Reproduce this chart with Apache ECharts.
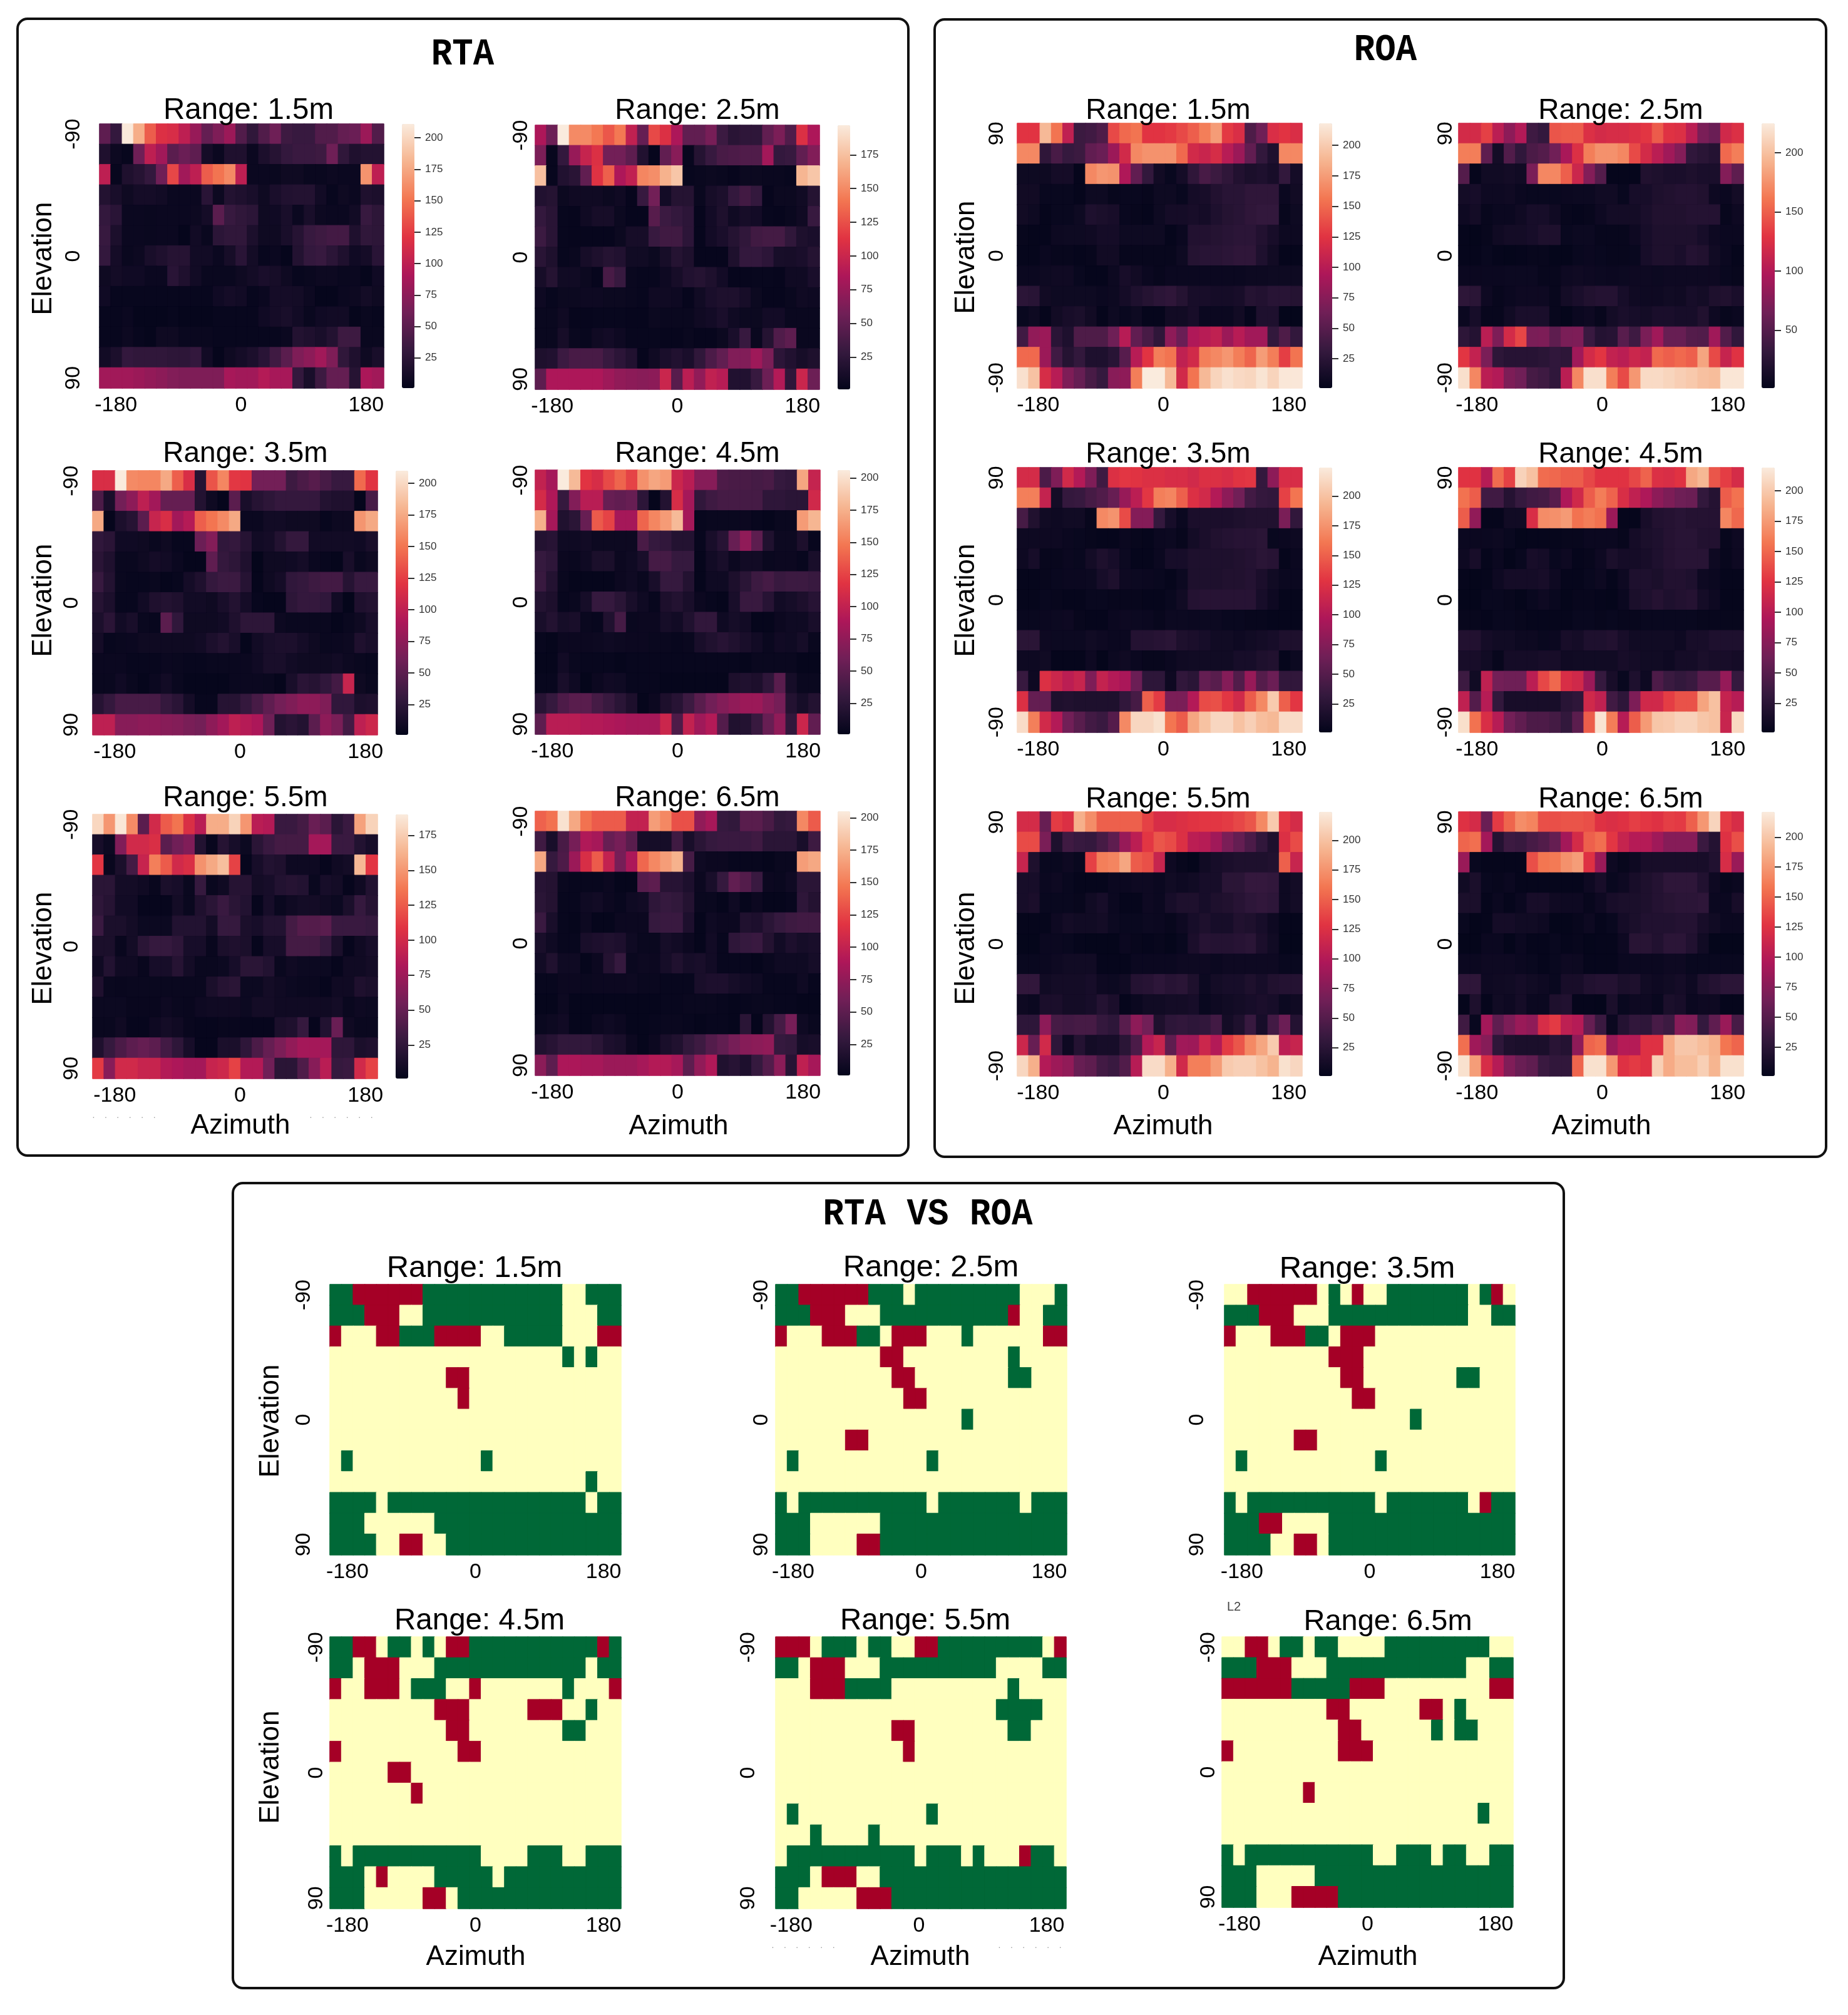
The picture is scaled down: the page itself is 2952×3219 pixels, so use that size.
<!DOCTYPE html>
<html>
<head>
<meta charset="utf-8">
<title>RTA vs ROA</title>
<script src="https://cdn.jsdelivr.net/npm/echarts@6/dist/echarts.min.js"></script>
<style>
  html, body { margin: 0; padding: 0; background: #fff; }
  #chart { width: 2952px; height: 3219px; }
</style>
</head>
<body>
<div id="chart"></div>
<script>
// tick labels, only some cells carry one
const azimuthLabels = ['', '-180', '', '', '', '', '', '', '', '', '', '', '0', '', '', '', '', '', '', '', '', '', '', '180', ''];
const elevationDown = ['-90', '', '', '', '', '', '0', '', '', '', '', '', '90'];
const elevationUp = ['90', '', '', '', '', '', '0', '', '', '', '', '', '-90'];
const ticks25 = [25, 50, 75, 100, 125, 150, 175, 200];
const ticks50 = [50, 100, 150, 200];
const ranges = ['1.5', '2.5', '3.5', '4.5', '5.5', '6.5'];

// colour limits of each colour bar
const rtaMax = [211, 197, 210, 206, 190, 205];
const roaMax = [218, 225, 224, 219, 224, 221];

// RTA, rows from top to bottom
const rta15 = [
  [52,30,210,178,140,118,115,100,80,55,68,82,45,28,45,60,35,32,32,45,45,55,58,82,45],
  [18,7,4,60,100,85,50,58,52,12,6,18,18,6,16,22,30,33,33,35,60,28,18,20,20],
  [100,4,18,22,30,60,130,85,100,140,150,160,100,6,6,5,8,8,5,5,7,6,6,165,100],
  [20,14,8,12,12,10,6,6,6,24,7,20,18,14,8,15,19,20,20,10,4,8,6,18,16],
  [30,24,6,6,5,6,6,6,7,12,50,32,28,25,8,9,14,6,14,7,6,6,10,32,26],
  [32,16,6,6,5,6,6,3,10,5,25,28,28,16,8,8,14,22,32,35,38,38,18,28,26],
  [30,12,5,7,14,18,22,22,10,10,6,13,24,11,4,6,3,20,30,32,25,18,9,12,24],
  [8,11,9,9,6,6,24,18,10,5,5,5,8,11,15,13,8,4,5,7,7,5,6,3,9],
  [9,4,4,4,4,4,4,4,4,4,9,12,10,4,6,12,12,11,7,3,3,6,7,11,8],
  [4,4,6,3,3,3,4,3,3,3,4,4,4,4,9,12,14,10,5,9,10,10,3,5,4],
  [4,4,7,4,3,8,8,5,5,5,4,4,4,4,4,4,6,20,18,14,20,35,35,5,5],
  [10,16,30,28,28,28,26,26,30,10,3,8,12,16,24,36,50,68,75,85,68,28,18,8,14],
  [85,85,85,82,78,75,70,68,68,68,68,88,85,85,95,88,88,30,14,35,55,55,22,90,85]
];
const rta25 = [
  [85,55,197,150,150,142,128,142,95,52,122,110,85,50,50,60,32,22,25,25,50,62,42,110,85],
  [62,4,28,75,98,110,58,58,48,18,3,50,68,4,20,30,38,40,42,42,80,28,30,50,65],
  [175,4,18,22,50,112,132,85,95,148,152,168,178,4,5,6,5,3,6,6,5,5,4,170,178],
  [18,20,6,8,8,8,6,8,3,30,58,10,20,20,5,12,15,28,35,28,3,6,6,9,20],
  [28,22,4,3,8,12,12,6,3,3,45,32,28,24,3,10,16,8,12,10,4,3,5,8,30],
  [32,22,4,3,3,3,3,6,12,12,30,34,34,24,3,10,14,20,26,34,36,36,26,16,14],
  [22,16,4,5,12,16,20,18,9,9,6,12,20,16,3,3,3,16,28,28,24,13,12,14,20],
  [12,20,9,9,6,3,38,30,5,4,4,7,12,18,20,16,10,3,3,4,4,3,8,8,14],
  [7,4,6,6,7,7,6,6,5,4,8,8,7,3,9,14,16,16,12,6,3,3,5,8,7],
  [5,5,8,3,3,4,4,4,3,3,6,5,5,5,8,10,14,8,6,6,10,10,5,5,5],
  [5,5,12,5,4,8,10,7,4,4,4,3,3,5,3,3,6,14,30,5,20,42,48,5,5],
  [16,18,32,38,38,38,30,24,18,3,8,14,18,14,26,40,50,65,65,78,62,24,18,12,16],
  [48,85,85,85,85,85,78,72,70,68,70,100,45,92,72,95,90,18,18,30,55,88,25,100,55]
];
const rta35 = [
  [115,115,210,160,158,158,175,140,115,22,135,158,122,120,62,62,62,35,42,48,40,32,32,145,120],
  [42,14,62,75,100,85,55,55,55,20,8,3,50,14,22,26,30,30,30,30,20,18,18,3,40],
  [175,3,16,22,50,105,115,85,95,140,150,160,175,6,6,10,10,8,8,8,4,7,7,165,175],
  [28,24,9,9,8,5,8,4,4,58,70,28,30,22,10,12,20,30,30,10,10,10,10,9,14],
  [24,18,5,5,8,12,10,6,3,3,52,30,26,18,2,8,8,9,12,6,4,3,14,5,8],
  [32,20,5,4,4,5,3,4,12,18,30,34,34,22,3,8,12,28,30,35,38,38,22,32,32],
  [22,16,4,4,10,18,20,18,10,10,8,14,20,12,4,3,3,26,30,30,28,10,2,18,20],
  [16,24,10,14,5,4,50,28,8,8,8,10,18,26,26,26,7,5,5,5,5,3,5,8,14],
  [12,4,5,6,8,8,8,8,8,10,16,20,14,3,10,14,16,16,12,8,5,6,7,18,14],
  [6,6,6,4,4,4,6,5,4,4,5,5,5,6,9,14,14,10,8,8,8,10,7,5,4],
  [5,5,9,5,3,6,10,5,3,3,3,3,5,6,6,5,3,14,24,22,28,38,105,8,5],
  [22,30,40,40,40,40,30,24,12,4,4,22,22,30,40,52,62,68,75,75,68,28,28,16,18],
  [100,100,72,72,75,75,72,70,65,62,75,85,100,95,90,60,20,24,20,50,75,65,38,100,108]
];
const rta45 = [
  [100,85,206,180,118,112,128,140,125,160,170,165,105,95,70,70,42,40,40,38,40,30,28,170,102],
  [110,90,30,68,95,95,55,52,55,25,3,20,112,85,28,35,38,38,38,38,26,26,24,24,108],
  [175,85,18,24,55,135,125,85,85,140,155,165,180,85,4,5,5,5,6,4,3,5,5,165,178],
  [20,22,8,8,10,7,7,7,7,40,30,28,20,20,4,14,22,55,75,50,18,7,7,16,4],
  [30,26,6,5,8,15,15,6,8,14,38,38,30,30,3,10,14,6,10,10,5,6,6,4,14],
  [32,20,5,3,3,3,3,6,8,5,14,30,30,20,3,8,8,16,24,34,38,32,34,34,32],
  [20,16,4,5,12,30,30,24,14,8,4,16,20,14,6,4,3,14,32,32,22,10,12,16,22],
  [14,20,12,14,5,4,18,38,5,6,6,12,10,18,28,28,8,12,10,3,3,6,8,8,14],
  [4,3,6,6,6,7,8,7,6,6,5,5,4,5,14,18,22,18,14,10,5,9,8,12,5],
  [3,3,10,5,4,4,4,3,4,4,4,4,4,4,4,4,4,4,3,5,5,5,5,3,3],
  [4,4,14,8,2,6,9,8,4,4,4,3,3,3,3,3,3,16,18,16,26,48,12,5,5],
  [22,30,42,48,48,38,32,24,16,3,6,16,22,34,48,60,68,75,80,80,70,62,20,12,20],
  [50,95,95,95,92,92,90,88,85,85,85,105,42,100,82,92,45,18,20,32,55,75,28,105,52]
];
const rta55 = [
  [180,150,188,145,45,100,125,135,105,88,160,160,178,150,88,85,30,30,35,52,45,22,30,155,178],
  [12,6,62,100,100,105,45,55,62,18,4,20,12,6,22,30,35,35,35,78,78,30,30,18,12],
  [110,4,14,35,95,140,125,100,105,148,158,168,115,3,12,18,16,7,7,7,3,8,10,165,110],
  [22,22,10,10,8,4,14,12,5,28,5,8,20,20,10,12,18,20,18,5,12,10,3,8,18],
  [24,20,9,9,3,3,3,10,5,16,22,30,22,18,3,12,5,8,10,10,8,6,14,28,20],
  [30,14,14,10,6,6,6,18,18,18,10,28,28,14,12,18,18,35,42,42,45,30,30,30,28],
  [14,14,4,10,22,28,28,24,12,12,4,14,16,14,3,12,12,35,35,35,28,14,3,8,12],
  [8,18,8,8,4,12,12,20,10,5,5,6,12,22,22,18,5,8,6,6,6,3,8,8,10],
  [16,5,4,5,5,5,5,5,5,5,14,20,22,6,6,10,8,6,5,5,3,8,8,16,14],
  [6,6,6,4,4,4,7,5,4,7,8,8,8,6,10,10,8,8,8,8,8,10,5,7,6],
  [5,5,8,3,3,7,10,8,4,3,3,4,4,3,3,3,14,16,28,3,18,52,8,5,5],
  [16,28,38,46,50,46,34,24,12,3,3,14,14,24,38,50,60,70,78,78,78,24,24,14,16],
  [112,65,100,100,95,95,85,82,78,78,95,98,115,85,85,55,22,22,40,65,88,28,30,100,115]
];
const rta65 = [
  [138,145,200,170,145,135,135,135,100,100,165,155,130,130,75,85,30,28,48,48,40,28,30,155,135],
  [35,14,40,62,90,85,55,62,48,12,12,12,35,14,24,30,32,32,32,35,24,24,24,14,34],
  [170,30,42,80,112,135,100,62,88,140,155,165,175,38,8,6,6,4,4,4,3,5,5,165,170],
  [22,20,5,4,4,4,6,3,3,46,50,22,22,16,6,14,30,52,45,32,6,5,8,24,24],
  [24,20,4,4,8,10,6,4,8,10,26,30,28,20,5,5,3,8,3,6,3,3,4,26,20],
  [32,14,4,3,7,3,3,6,6,6,30,32,32,16,3,8,6,6,18,16,24,30,34,36,36],
  [14,8,4,4,14,16,18,16,8,5,5,12,10,6,3,10,4,26,30,32,20,10,16,12,14],
  [10,18,8,8,3,6,20,30,5,7,6,12,18,12,14,10,4,4,4,3,5,8,8,8,12],
  [4,4,6,6,5,6,6,6,7,5,5,4,4,4,14,16,16,12,10,8,4,4,4,8,4],
  [3,3,7,3,3,3,3,3,3,3,3,4,4,5,5,5,4,3,4,5,5,4,4,3,3],
  [5,7,9,3,3,6,8,6,3,3,4,5,5,4,3,4,4,3,24,3,20,38,62,8,5],
  [18,22,28,28,28,24,16,14,6,3,6,14,18,28,34,45,52,62,70,72,75,30,28,12,14],
  [72,50,88,88,85,85,80,80,80,85,92,92,85,50,75,90,18,22,16,30,45,72,22,98,85]
];

// ROA, rows from top to bottom
const roa15 = [
  [125,125,190,155,105,35,38,45,135,150,155,125,125,128,135,145,160,175,128,120,45,62,120,125,120],
  [165,165,28,42,32,35,55,60,85,115,165,170,170,170,150,115,110,118,100,85,55,30,18,165,165],
  [8,8,8,12,12,3,165,172,170,95,55,30,10,5,12,28,42,35,28,20,16,18,14,30,12],
  [10,10,5,5,5,3,8,8,4,5,5,4,8,8,5,12,14,20,24,24,28,28,28,6,10],
  [10,8,3,5,5,8,18,16,14,5,4,3,8,12,12,14,12,18,22,24,28,30,30,4,8],
  [4,3,3,7,8,8,9,12,12,8,8,8,8,3,6,20,20,22,24,26,26,20,14,7,7],
  [3,3,6,4,4,3,4,10,10,4,4,4,4,4,8,22,24,24,26,28,28,18,10,3,3],
  [6,6,8,9,9,5,3,3,7,14,10,6,4,6,6,6,6,6,6,6,7,7,8,8,8],
  [26,24,10,8,8,8,8,6,7,12,18,22,26,28,22,14,14,12,12,14,22,20,24,24,22],
  [5,8,3,10,14,16,10,3,8,5,8,3,3,10,10,14,6,6,6,10,3,18,18,2,2],
  [38,80,85,25,18,45,45,45,62,100,55,42,28,78,60,95,100,105,85,100,88,88,30,45,30],
  [150,150,85,38,22,30,18,18,24,50,100,125,160,155,105,115,160,165,172,160,148,175,160,130,155],
  [212,195,118,100,70,58,42,32,75,78,160,218,218,190,115,155,190,205,212,208,206,214,205,216,216]
];
const roa25 = [
  [120,120,135,105,80,100,38,32,145,148,148,125,120,122,122,125,130,148,128,125,105,70,62,118,125],
  [165,165,55,12,48,30,45,50,65,95,125,165,175,175,170,140,120,105,90,75,30,26,22,155,165],
  [50,3,10,10,12,10,70,170,170,150,115,75,50,3,3,3,20,18,16,16,18,16,16,75,55],
  [12,14,8,8,9,6,5,5,5,6,7,7,10,10,5,14,14,18,20,22,22,20,8,6,12],
  [8,12,4,6,6,9,14,14,9,4,3,4,8,12,12,12,16,20,20,20,22,22,22,4,8],
  [3,2,4,9,12,12,14,18,18,5,7,7,4,4,4,8,14,18,18,18,18,14,8,6,6],
  [3,3,5,3,2,3,4,4,2,2,5,6,5,4,4,5,14,18,18,16,22,20,10,6,3],
  [6,6,6,6,7,7,7,4,4,8,9,8,7,6,7,8,8,7,8,8,8,8,8,5,4],
  [28,26,8,4,6,8,8,8,4,12,16,20,22,22,14,9,8,8,10,9,14,12,18,20,16],
  [6,14,4,4,10,16,16,16,4,2,6,8,4,12,16,14,12,16,16,14,14,20,8,4,6],
  [28,22,105,72,120,138,70,72,55,70,72,35,22,24,52,38,70,90,60,60,50,48,90,48,30],
  [130,110,70,28,24,24,24,26,30,28,90,120,130,110,105,115,110,155,150,155,150,185,140,112,128],
  [218,170,105,100,72,65,42,38,30,105,170,218,218,165,140,178,215,215,212,208,205,200,198,222,222]
];
const roa35 = [
  [120,120,45,72,118,100,72,38,125,130,128,125,125,122,122,118,125,125,122,128,130,32,80,122,122],
  [165,165,110,12,32,34,42,48,60,85,105,130,165,168,150,125,118,100,80,65,40,32,30,135,160],
  [42,20,10,8,10,10,4,170,175,140,75,75,32,14,6,16,16,16,16,18,20,20,20,70,30],
  [8,8,8,8,6,5,4,3,3,6,4,3,6,7,4,12,16,20,22,24,24,26,5,6,8],
  [8,14,4,4,6,5,12,18,14,7,3,3,6,14,14,18,18,18,18,20,22,26,24,3,6],
  [3,3,4,5,6,6,7,14,18,8,7,6,5,3,7,18,18,18,20,20,22,16,10,6,6],
  [3,3,5,4,3,3,5,5,4,4,4,3,3,5,10,22,24,24,24,24,24,14,8,3,3],
  [5,5,6,7,8,4,3,3,6,8,7,6,4,7,7,6,7,7,5,5,4,4,3,3,3],
  [26,26,8,7,7,7,10,8,6,6,22,22,24,26,18,16,14,10,10,8,10,12,14,18,18],
  [8,8,10,3,3,3,8,2,7,9,6,4,4,6,9,10,10,10,10,14,14,18,20,3,7],
  [34,8,125,115,105,112,72,110,100,95,62,28,28,8,30,26,58,52,75,48,85,50,62,30,30],
  [125,58,58,18,20,18,18,18,18,30,42,150,132,70,70,100,140,142,130,118,148,170,205,150,130],
  [215,165,118,100,65,52,40,35,50,170,212,212,218,160,148,185,200,212,212,200,208,198,195,215,215]
];
const roa45 = [
  [125,125,100,152,132,205,195,152,150,145,145,135,125,125,125,135,148,122,120,125,182,190,142,130,118],
  [155,145,38,38,22,32,38,40,50,95,115,145,160,148,120,105,95,78,70,62,60,30,22,145,155],
  [145,80,3,3,10,10,120,168,170,175,155,160,155,85,3,3,14,20,22,24,22,22,22,165,150],
  [6,6,6,7,5,2,3,3,3,4,4,6,6,6,4,12,16,18,22,24,24,20,20,4,8],
  [8,14,3,6,2,5,14,12,5,8,3,4,8,16,12,12,14,18,22,24,24,24,8,4,8],
  [3,2,3,8,12,12,12,14,8,3,3,5,7,3,8,18,18,16,20,20,18,8,6,3,3],
  [2,2,5,5,4,2,5,8,5,2,4,4,3,2,6,16,18,22,18,20,22,12,8,3,3],
  [4,4,3,5,5,4,3,3,3,3,5,5,4,5,4,4,5,5,5,5,5,4,4,4,4],
  [20,20,12,10,10,7,7,5,6,14,12,18,18,20,14,10,10,10,10,8,14,14,18,18,18],
  [14,14,10,4,12,12,12,14,14,9,10,10,10,10,14,12,10,10,8,12,12,16,14,14,12],
  [36,10,105,65,62,62,102,135,150,120,115,85,32,14,5,18,8,45,35,30,34,50,50,82,32],
  [105,48,100,30,14,14,14,14,14,24,28,115,105,38,28,70,115,115,130,140,140,180,195,108,100],
  [212,155,120,100,65,55,45,45,40,30,52,145,215,160,100,145,175,198,200,205,205,198,195,110,208]
];
const roa55 = [
  [120,120,60,132,125,190,172,150,150,150,150,135,122,122,125,128,130,130,132,138,145,170,205,130,120],
  [140,140,70,18,38,34,32,42,55,85,105,130,145,140,125,105,102,90,70,58,45,30,18,125,140],
  [112,18,5,5,8,5,135,165,168,185,148,142,112,8,4,2,10,14,16,18,18,18,20,150,112],
  [14,14,6,8,5,3,3,3,6,6,8,8,6,10,8,10,14,14,26,26,32,32,30,8,12],
  [14,16,5,5,5,4,10,14,6,3,3,8,6,14,18,18,14,18,20,24,28,30,28,8,12],
  [3,3,3,8,12,10,10,12,7,5,5,7,6,4,8,14,18,14,14,20,18,14,8,3,3],
  [2,2,6,6,5,3,2,2,2,6,4,3,4,2,5,16,24,22,22,24,26,16,10,2,2],
  [5,5,6,8,10,10,10,3,3,3,6,6,6,6,8,8,8,6,8,8,8,8,8,5,5],
  [30,30,10,12,12,12,14,8,7,10,22,24,28,24,26,18,7,12,14,14,18,14,20,22,22],
  [8,6,16,16,12,12,14,22,16,3,6,10,10,12,12,14,5,8,10,12,14,16,14,7,9],
  [28,28,80,42,40,42,42,32,28,52,80,65,18,28,30,28,30,40,12,18,34,14,40,62,22],
  [115,60,118,28,8,22,12,14,14,26,45,100,112,55,90,88,115,100,132,145,170,185,205,105,112],
  [212,190,100,88,82,60,55,40,35,48,102,215,215,190,118,165,165,180,205,208,208,200,192,218,212]
];
const roa65 = [
  [125,118,60,130,150,170,165,140,140,142,142,140,125,122,125,132,128,125,132,130,148,175,208,130,120],
  [150,155,90,22,36,34,42,48,58,90,118,148,155,128,110,100,100,88,75,75,75,35,22,125,140],
  [85,5,3,3,3,3,140,158,160,172,178,125,85,8,4,8,14,14,14,14,14,14,20,120,85],
  [10,16,5,4,6,3,3,3,3,3,3,8,14,5,8,14,18,22,28,28,28,20,8,4,6],
  [16,16,3,6,3,6,14,14,9,8,8,4,8,14,16,16,18,22,24,26,26,28,6,6,14],
  [5,2,3,12,12,10,10,8,2,2,4,7,3,5,12,16,20,20,20,22,22,14,10,6,6],
  [2,2,6,6,2,6,3,3,5,3,4,2,3,3,8,24,24,20,26,26,20,10,2,2,2],
  [6,6,8,8,8,6,5,3,5,8,7,3,3,3,6,6,6,6,8,8,5,5,5,5,5],
  [28,28,8,9,10,12,10,8,5,14,14,20,22,22,16,18,10,8,10,12,8,18,22,26,26],
  [3,18,3,10,8,12,6,6,18,20,3,3,2,16,5,8,8,5,16,14,6,8,8,3,3],
  [38,5,90,55,70,85,80,120,130,105,100,58,35,6,22,30,28,42,36,75,72,32,55,85,42],
  [155,88,75,28,18,16,16,16,25,22,80,150,155,85,100,100,125,125,185,200,200,195,188,158,150],
  [215,178,120,100,72,60,55,35,30,30,150,215,215,175,125,130,125,205,185,195,195,205,190,215,215]
];

// RTA vs ROA: G = RTA wins, R = ROA wins, . = no difference
const cmp15 = [
  'GGRRRRRRGGGGGGGGGGGG..GGG',
  'GGGRRR..GGGGGGGGGGGG...GG',
  'R...RRGGGRRRR..GGGGG...RR',
  '....................G.G..',
  '..........RR.............',
  '...........R.............',
  '.........................',
  '.........................',
  '.G...........G...........',
  '......................G..',
  'GGGG.GGGGGGGGGGGGGGGGG.GG',
  'GGG......GGGGGGGGGGGGGGGG',
  'GGGG..RR..GGGGGGGGGGGGGGG'
];
const cmp25 = [
  'GGRRRRRRGGG.GGGGGGGGG...G',
  'GGGRRR...GGGGGGGGGGGR..GG',
  'R...RRRGG.RRR...G......RR',
  '.........RR.........G....',
  '..........RR........GG...',
  '...........RR............',
  '................G........',
  '......RR.................',
  '.G...........G...........',
  '.........................',
  'G.GGGGGGGGGGG.GGGGGGG.GGG',
  'GGG......GGGGGGGGGGGGGGGG',
  'GGG....RRGGGGGGGGGGGGGGGG'
];
const cmp35 = [
  '..RRRRRR.G.R..GGGGGGG.GR.',
  'GGGRRR...GGGGGGGGGGGG..GG',
  'R...RRRGG.RRR............',
  '.........RRR.............',
  '..........RR........GG...',
  '...........RR............',
  '................G........',
  '......RR.................',
  '.G...........G...........',
  '.........................',
  'G.GGGGGGGGGGG.GGGGGGG.RGG',
  'GGGRR....GGGGGGGGGGGGGGGG',
  'GGGG..RR.GGGGGGGGGGGGGGGG'
];
const cmp45 = [
  'GGRR.GG.G.RRGGGGGGGGGGGRG',
  'GG.RRR...GGGGGGGGGGGGG.GG',
  'R..RRR.GGG..R.......G...R',
  '.........RRR.....RRR..G..',
  '..........RR........GG...',
  'R..........RR............',
  '.....RR..................',
  '.......R.................',
  '.........................',
  '.........................',
  'G.GGGGGGGGGGG....GGG..GGG',
  'GGG.R....GGGGG.GGGGGGGGGG',
  'GGG.....RR.GGGGGGGGGGGGGG'
];
const cmp55 = [
  'RRR.GGG.GG..RRGGGGGGGGG.R',
  'GG.RRR...GGGGGGGGGG....GG',
  '...RRRGGGG..........G....',
  '...................GGGG..',
  '..........RR........GG...',
  '...........R.............',
  '.........................',
  '.........................',
  '.G...........G...........',
  '...G....G................',
  '.GGGGGGGGGGG.GGG.G...RGG.',
  'GGG.RRR..GGGGGGGGGGGGGGGG',
  'GG.....RRRGGGGGGGGGGGGGGG'
];
const cmp65 = [
  '..RR.GG.GG....GGGGGGGGG..',
  'GGGRRR...GGGGGGGGGGGG..GG',
  'RRRRRRGGGGGRRR.........RR',
  '.........RR......RR.G....',
  '..........RR......G.GG...',
  'R.........RRR............',
  '.........................',
  '.......R.................',
  '......................G..',
  '.........................',
  'G.GGGGGGGGGGG..GGG.GG..GG',
  'GGG.....GGGGGGGGGGGGGGGGG',
  'GGG...RRRRGGGGGGGGGGGGGGG'
];

const rocket = ['#03051a', '#35193e', '#701f57', '#ad1759', '#e13342', '#f37651', '#f6b48f', '#faebdd'];
const rdYlGn = ['#a50026', '#ffffbf', '#006837'];
const sans = '"Liberation Sans", Arial, sans-serif';
const mono = '"Liberation Mono", monospace';

let grid = [], xAxis = [], yAxis = [], series = [], visualMap = [], graphic = [];

function text(str, x, y, size, opt) {
  opt = opt || {};
  graphic.push({
    type: 'text', x: x, y: y, rotation: opt.rot || 0, scaleX: opt.sx || 1, z: 10,
    style: {
      text: str, fill: opt.color || '#000', textAlign: 'center', textVerticalAlign: 'middle',
      font: (opt.bold ? 'bold ' : '') + size + 'px ' + (opt.family || sans)
    }
  });
}

function box(x, y, w, h) {
  graphic.push({
    type: 'rect', z: -1,
    shape: { x: x, y: y, width: w, height: h, r: 16 },
    style: { fill: '#fff', stroke: '#111', lineWidth: 4 }
  });
}

function heatPanel(cells, g, elevation, colors, min, max) {
  let i = grid.length;
  let dx = g.dx || 0;
  grid.push({ left: g.x, top: g.y, width: g.w, height: g.h, containLabel: false });
  xAxis.push({
    type: 'category', gridIndex: i, data: azimuthLabels, position: 'bottom',
    axisLine: { show: false }, axisTick: { show: false }, splitLine: { show: false },
    axisLabel: {
      interval: 0, margin: 11, fontSize: 34, color: '#000', fontFamily: sans, hideOverlap: false,
      padding: dx > 0 ? [0, 0, 0, 2 * dx] : [0, -2 * dx, 0, 0]
    }
  });
  yAxis.push({
    type: 'category', gridIndex: i, data: elevation, inverse: true,
    axisLine: { show: false }, axisTick: { show: false }, splitLine: { show: false },
    axisLabel: { interval: 0, rotate: 90, margin: g.gap, fontSize: 34, color: '#000', fontFamily: sans, hideOverlap: false }
  });
  // same colour on the border, otherwise thin seams show up between the cells
  let items = cells.map(c => ({
    value: c,
    itemStyle: { borderWidth: 1, borderColor: echarts.color.lerp((c[2] - min) / (max - min), colors) }
  }));
  series.push({
    type: 'heatmap', xAxisIndex: i, yAxisIndex: i, data: items, silent: true,
    progressive: 0, emphasis: { disabled: true }
  });
  visualMap.push({
    type: 'continuous', seriesIndex: series.length - 1, dimension: 2, min: min, max: max,
    show: false, inRange: { color: colors }
  });
}

function colorBar(g, cx, cw, max, ticks) {
  let i = grid.length;
  grid.push({ left: cx, top: g.y, width: cw, height: g.h });
  xAxis.push({ type: 'category', gridIndex: i, show: false, data: [''] });
  yAxis.push({
    type: 'value', gridIndex: i, position: 'right', min: 1, max: max,
    axisLine: { show: false }, splitLine: { show: false },
    axisTick: { show: true, length: 10, customValues: ticks, lineStyle: { color: '#333', width: 2 } },
    axisLabel: { customValues: ticks, margin: 17, fontSize: 17, color: '#333', fontFamily: sans }
  });
  // the gradient itself belongs to a visualMap, the heatmap one stays hidden
  visualMap.push({
    type: 'continuous', seriesIndex: [], min: 1, max: max, show: true, calculable: false, realtime: false,
    hoverLink: false, left: cx, top: g.y, itemWidth: cw, itemHeight: g.h, padding: 0, text: null,
    inRange: { color: rocket }
  });
}

function rowsToCells(rows) {
  let out = [];
  rows.forEach((row, y) => row.forEach((v, x) => out.push([x, y, v])));
  return out;
}

function charsToCells(rows) {
  let out = [];
  rows.forEach((row, y) => {
    for (let x = 0; x < 25; x++) {
      let c = row.charAt(x);
      out.push([x, y, c === 'G' ? 1 : c === 'R' ? -1 : 0]);
    }
  });
  return out;
}

box(28, 30, 1423, 1816);
box(1493, 31, 1424, 1817);
box(372, 1890, 2126, 1286);
text('RTA', 739, 87, 62, { bold: true, family: mono, sx: 0.9 });
text('ROA', 2213, 80, 62, { bold: true, family: mono, sx: 0.9 });
text('RTA VS ROA', 1482, 1940, 62, { bold: true, family: mono, sx: 0.9 });

const rtaGrids = [
  { x: 159, y: 198, w: 454, h: 422, gap: 24, tx: 397, ty: 177, ts: 47.5, cx: 642, cw: 20, dx: -1 },
  { x: 855, y: 200, w: 454, h: 422, gap: 5, tx: 1114, ty: 177, ts: 46, cx: 1338, cw: 20 },
  { x: 148, y: 752, w: 455, h: 422, gap: 16, tx: 392, ty: 725, ts: 46, cx: 632, cw: 20, dx: 8 },
  { x: 855, y: 751, w: 455, h: 422, gap: 5, tx: 1114, ty: 725, ts: 46, cx: 1338, cw: 20 },
  { x: 148, y: 1301, w: 455, h: 422, gap: 16, tx: 392, ty: 1275, ts: 46, cx: 632, cw: 20, dx: 8 },
  { x: 855, y: 1296, w: 455, h: 422, gap: 5, tx: 1114, ty: 1275, ts: 46, cx: 1338, cw: 20 }
];
const roaGrids = [
  { x: 1625, y: 197, w: 455, h: 423, gap: 15, tx: 1866, ty: 177, ts: 46, cx: 2107, cw: 21, dx: 6 },
  { x: 2330, y: 197, w: 455, h: 423, gap: 3, tx: 2589, ty: 177, ts: 46, cx: 2814, cw: 21, dx: 2 },
  { x: 1625, y: 747, w: 455, h: 423, gap: 15, tx: 1866, ty: 726, ts: 46, cx: 2107, cw: 21, dx: 6 },
  { x: 2330, y: 747, w: 455, h: 423, gap: 3, tx: 2589, ty: 726, ts: 46, cx: 2814, cw: 21, dx: 2 },
  { x: 1625, y: 1297, w: 455, h: 422, gap: 15, tx: 1866, ty: 1277, ts: 46, cx: 2107, cw: 21, dx: 6 },
  { x: 2330, y: 1297, w: 455, h: 422, gap: 3, tx: 2589, ty: 1277, ts: 46, cx: 2814, cw: 21, dx: 2 }
];
const cmpGrids = [
  { x: 527, y: 2052, w: 465, h: 432, gap: 24, tx: 758, ty: 2026, ts: 49 },
  { x: 1239, y: 2052, w: 465, h: 432, gap: 5, tx: 1487, ty: 2025, ts: 49 },
  { x: 1956, y: 2052, w: 464, h: 432, gap: 26, tx: 2184, ty: 2027, ts: 49 },
  { x: 527, y: 2615, w: 465, h: 434, gap: 4, tx: 766, ty: 2590, ts: 47.5 },
  { x: 1239, y: 2615, w: 464, h: 434, gap: 26, tx: 1478, ty: 2590, ts: 47.5, dx: -3 },
  { x: 1952, y: 2615, w: 465, h: 432, gap: 4, tx: 2217, ty: 2591, ts: 47 }
];

[rta15, rta25, rta35, rta45, rta55, rta65].forEach((rows, k) => {
  let g = rtaGrids[k];
  heatPanel(rowsToCells(rows), g, elevationDown, rocket, 1, rtaMax[k]);
  colorBar(g, g.cx, g.cw, rtaMax[k], ticks25);
  text('Range: ' + ranges[k] + 'm', g.tx, g.ty, g.ts);
});
[roa15, roa25, roa35, roa45, roa55, roa65].forEach((rows, k) => {
  let g = roaGrids[k];
  heatPanel(rowsToCells(rows), g, elevationUp, rocket, 1, roaMax[k]);
  colorBar(g, g.cx, g.cw, roaMax[k], k === 1 ? ticks50 : ticks25);
  text('Range: ' + ranges[k] + 'm', g.tx, g.ty, g.ts);
});
[cmp15, cmp25, cmp35, cmp45, cmp55, cmp65].forEach((rows, k) => {
  let g = cmpGrids[k];
  heatPanel(charsToCells(rows), g, elevationDown, rdYlGn, -1, 1);
  text('Range: ' + ranges[k] + 'm', g.tx, g.ty, g.ts);
});

// axis titles
[[70, 413], [70, 959], [70, 1515], [1544, 411], [1544, 959], [1544, 1515], [433, 2270], [433, 2823]].forEach(p => {
  text('Elevation', p[0], p[1], 44, { rot: Math.PI / 2 });
});
[[384, 1799], [1084, 1800], [1858, 1800], [2558, 1800], [760, 3127], [1470, 3127], [2185, 3127]].forEach(p => {
  text('Azimuth', p[0], p[1], 44);
});

// leftovers that sit in the source figure
text('L2', 1971, 2567, 20, { color: '#444' });
[[198, 1782], [545, 1782], [1283, 3108], [1645, 3108]].forEach(p => {
  text('.    .    .    .    .    .', p[0], p[1], 14, { color: '#999' });
});

let chart = echarts.init(document.getElementById('chart'), null, { width: 2952, height: 3219 });
chart.setOption({
  animation: false,
  backgroundColor: '#fff',
  grid: grid,
  xAxis: xAxis,
  yAxis: yAxis,
  visualMap: visualMap,
  series: series,
  graphic: graphic
});
</script>
</body>
</html>
